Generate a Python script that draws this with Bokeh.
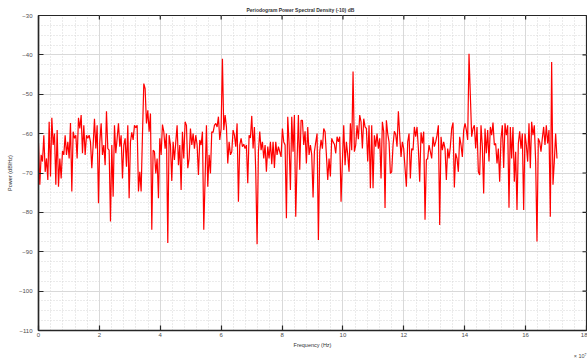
from bokeh.plotting import figure
from bokeh.models import Range1d, FixedTicker, ColumnDataSource, Title
from bokeh.embed import file_html
from bokeh.resources import INLINE
import numpy as np

# ---- data ----
# frequency bin spacing, in units of 1e7 Hz
FREQ_STEP = 0.04378
power_db = [
    # 0 .. ~2.9
    -62.5, -73.0, -65.4, -67.1, -60.4, -69.7, -66.3, -71.8, -57.0, -70.9,
    -56.0, -62.9, -60.0, -73.0, -59.1, -73.5, -66.3, -71.4, -64.4, -65.4,
    -60.4, -65.4, -62.1, -66.3, -57.3, -74.7, -59.5, -61.2, -60.4, -66.3,
    -56.0, -58.7, -55.3, -65.0, -57.9, -65.4, -60.4, -61.2, -60.4, -62.1,
    -68.8, -62.9, -56.2, -63.8, -57.9, -77.7, -62.1, -57.4, -65.4, -62.9,
    -68.0, -54.3, -63.8, -64.2, -82.3, -62.9, -76.0, -57.9, -65.0, -61.2,
    -57.4, -63.3, -60.4, -71.4, -62.9, -61.2,
    # ~2.9 .. ~5.8
    -68.4, -57.9, -76.4, -62.1, -59.7, -61.6, -57.9, -58.5, -57.9, -74.7,
    -69.7, -74.7, -60.4, -47.3, -48.6, -57.4, -54.1, -59.5, -54.9, -84.4,
    -64.2, -64.6, -70.1, -66.3, -76.4, -61.2, -65.4, -57.7, -59.5, -63.8,
    -60.0, -87.8, -60.4, -62.9, -72.0, -62.1, -66.7, -62.1, -57.9, -68.0,
    -62.9, -74.3, -59.5, -66.3, -57.0, -57.9, -68.8, -66.3, -58.7, -62.9,
    -60.0, -63.8, -60.4, -62.9, -70.5, -61.6, -62.9, -59.5, -84.4, -71.4,
    -57.9, -73.5, -65.4, -70.1, -59.5, -59.7,
    # ~5.8 .. ~8.7
    -57.9, -57.4, -58.3, -55.7, -61.6, -58.7, -41.0, -59.1, -55.3, -58.3,
    -67.6, -62.1, -65.4, -64.6, -59.1, -60.4, -63.3, -57.4, -77.3, -62.9,
    -61.2, -63.3, -62.7, -63.8, -62.9, -72.6, -60.4, -61.1, -55.5, -63.8,
    -58.3, -69.7, -88.1, -64.6, -59.5, -64.2, -62.1, -66.3, -62.9, -69.7,
    -63.3, -66.3, -62.1, -67.8, -62.1, -68.7, -62.1, -65.4, -63.3, -64.6,
    -65.9, -58.7, -62.1, -62.9, -81.5, -55.7, -62.5, -74.3, -55.7, -64.6,
    -55.3, -81.1, -67.1, -55.3, -69.2, -56.6,
    # ~8.7 .. ~11.6
    -56.6, -62.9, -59.4, -67.6, -58.3, -65.4, -62.9, -65.4, -76.2, -64.6,
    -62.2, -60.0, -87.0, -64.6, -61.6, -63.8, -58.7, -59.5, -65.4, -71.8,
    -66.3, -70.9, -61.2, -62.1, -62.7, -65.0, -60.8, -62.1, -60.8, -77.3,
    -67.1, -57.9, -68.0, -62.1, -65.4, -69.7, -57.4, -64.2, -44.2, -64.6,
    -62.9, -57.9, -61.4, -55.3, -57.0, -63.8, -56.2, -58.3, -58.7, -67.1,
    -57.9, -73.9, -57.9, -73.9, -60.4, -63.3, -60.0, -63.8, -61.2, -71.4,
    -57.0, -59.5, -78.9, -56.6, -60.0, -62.1,
    # ~11.6 .. ~14.5
    -70.1, -69.7, -62.9, -59.4, -60.2, -63.3, -54.3, -60.4, -65.9, -62.1,
    -63.8, -68.8, -73.5, -62.1, -60.0, -71.4, -63.8, -64.2, -58.3, -60.8,
    -58.3, -63.8, -72.2, -59.7, -62.5, -59.5, -81.9, -66.7, -66.3, -62.9,
    -64.6, -66.3, -60.8, -63.3, -62.1, -60.4, -57.9, -83.2, -60.8, -64.2,
    -62.1, -63.8, -71.8, -63.8, -66.3, -63.3, -58.7, -57.2, -73.7, -65.0,
    -66.3, -69.7, -60.8, -62.9, -65.9, -59.1, -57.4, -59.1, -61.6, -39.7,
    -50.3, -60.8, -58.7, -57.9, -63.8, -58.3,
    # ~14.5 .. ~17.0
    -69.7, -70.5, -57.9, -63.3, -75.2, -58.7, -65.0, -59.1, -67.1, -58.3,
    -60.4, -57.2, -62.9, -62.5, -67.6, -63.8, -72.2, -61.2, -57.9, -68.7,
    -57.4, -60.4, -57.9, -78.8, -58.3, -66.3, -58.3, -72.2, -64.6, -79.4,
    -62.5, -59.4, -63.8, -60.0, -79.4, -60.0, -62.9, -67.1, -57.4, -68.8,
    -57.0, -60.4, -57.9, -67.1, -87.4, -61.2, -62.1, -64.6, -61.2, -58.3,
    -62.9, -57.9, -62.5, -59.1, -81.1, -41.8, -73.0, -67.1, -60.0, -66.3,
]
freq = np.arange(len(power_db)) * FREQ_STEP

x_ticks = [0, 2, 4, 6, 8, 10, 12, 14, 16, 18]
y_ticks = [-110, -100, -90, -80, -70, -60, -50, -40, -30]
X_MIN, X_MAX = 0, 18
Y_MIN, Y_MAX = -110, -30

TITLE = "Periodogram Power Spectral Density (-10) dB"
XLABEL = "Frequency (Hz)"
YLABEL = "Power (dB/Hz)"
X_MULT = "\u00d7 10\u2077"

FONT = "Liberation Sans"
AX = "#262626"
TXT = "#4d4d4d"

p = figure(width=587, height=358, output_backend="svg", toolbar_location=None,
           x_range=Range1d(X_MIN, X_MAX), y_range=Range1d(Y_MIN, Y_MAX),
           min_border_left=38, min_border_right=1, min_border_top=15,
           min_border_bottom=28, background_fill_color="white",
           border_fill_color="white")
p.outline_line_color = AX
p.outline_line_width = 1.2

p.title.text = TITLE
p.title.text_font = FONT
p.title.text_font_size = "5px"
p.title.text_font_style = "bold"
p.title.text_color = "#333333"
p.title.align = "left"
p.title.offset = 208
p.title.standoff = 5

src = ColumnDataSource(dict(f=freq, p=power_db))
p.line("f", "p", source=src, line_color="#ff0000", line_width=1.2)

for ax in (p.xaxis[0], p.yaxis[0]):
    ax.axis_line_color = AX
    ax.axis_line_width = 1.5
    ax.major_tick_line_color = AX
    ax.major_tick_line_width = 1.2
    ax.major_tick_in = 5
    ax.major_tick_out = 0
    ax.minor_tick_in = 0
    ax.minor_tick_out = 0
    ax.major_label_text_font = FONT
    ax.major_label_text_font_size = "6px"
    ax.major_label_text_color = TXT
    ax.axis_label_text_font = FONT
    ax.axis_label_text_font_size = "5.5px"
    ax.axis_label_text_font_style = "normal"
    ax.axis_label_text_color = "#333333"

p.xaxis[0].ticker = FixedTicker(ticks=x_ticks,
                                minor_ticks=list(np.arange(0, 18.01, 0.4)))
p.yaxis[0].ticker = FixedTicker(ticks=y_ticks,
                                minor_ticks=list(np.arange(-110, -29.9, 2.5)))
p.xaxis[0].major_label_standoff = 2
p.yaxis[0].major_label_standoff = 6
p.xaxis[0].axis_label = XLABEL
p.xaxis[0].axis_label_standoff = 2
p.yaxis[0].axis_label = YLABEL
p.yaxis[0].axis_label_standoff = 3

# axis multiplier, bottom right
mult = Title(text=X_MULT, align="right", text_font=FONT,
             text_font_size="5.5px", text_font_style="normal",
             text_color=TXT, standoff=0, offset=0)
p.add_layout(mult, "below")

# inward tick marks on the top and right edges (mirrored from the tick lists)
tick_dx = 4 / 30.44
tick_dy = 4 / 3.94
p.segment(x0=x_ticks, y0=[Y_MAX] * len(x_ticks), x1=x_ticks,
          y1=[Y_MAX - tick_dy] * len(x_ticks), line_color=AX, line_width=1.2)
p.segment(x0=[X_MAX] * len(y_ticks), y0=y_ticks,
          x1=[X_MAX - tick_dx] * len(y_ticks), y1=y_ticks,
          line_color=AX, line_width=1.2)

p.xgrid.grid_line_color = "#d9d9d9"
p.ygrid.grid_line_color = "#d9d9d9"
p.xgrid.minor_grid_line_color = "#d6d6d6"
p.ygrid.minor_grid_line_color = "#d6d6d6"
p.xgrid.minor_grid_line_dash = "1 2"
p.ygrid.minor_grid_line_dash = "1 2"

open("out.html", "w").write(file_html(p, INLINE))
